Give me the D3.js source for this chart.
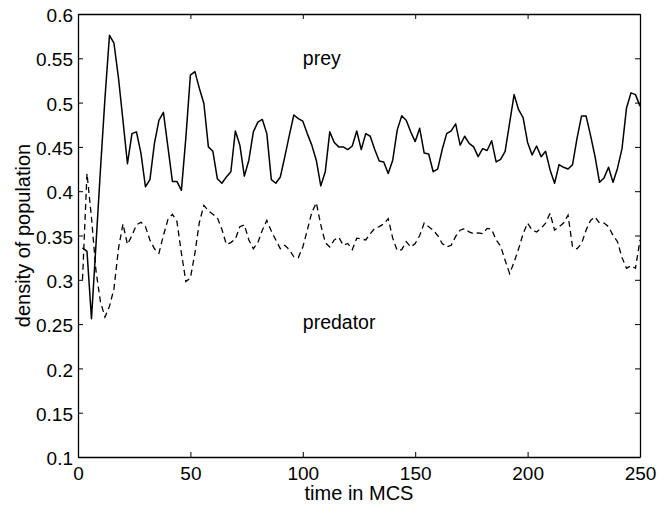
<!DOCTYPE html>
<html lang="en">
<head>
  <meta charset="utf-8">
  <title>prey / predator</title>
  <style>
    body { margin: 0; background: #fff; }
    svg { font-family: "Liberation Sans", Arial, Helvetica, sans-serif; }
  </style>
</head>
<body>
  <script src="https://cdn.jsdelivr.net/npm/d3@7/dist/d3.min.js"></script>
  <script>
    // sampling: every 2 MCS starting at t = 2
    var t0 = 2, dt = 2

    var prey = [
      0.336, 0.332, 0.256, 0.340, 0.425, 0.505, 0.576, 0.567, 0.528, 0.480,
      0.431, 0.465, 0.467, 0.443, 0.405, 0.413, 0.454, 0.480, 0.489, 0.450,
      0.411, 0.411, 0.401, 0.461, 0.531, 0.535, 0.516, 0.499, 0.450, 0.445,
      0.414, 0.409, 0.416, 0.422, 0.468, 0.452, 0.417, 0.435, 0.467, 0.478,
      0.481, 0.465, 0.413, 0.409, 0.416, 0.439, 0.463, 0.486, 0.482, 0.479,
      0.465, 0.452, 0.435, 0.406, 0.422, 0.467, 0.455, 0.450, 0.450, 0.447,
      0.451, 0.468, 0.447, 0.465, 0.462, 0.447, 0.434, 0.433, 0.420, 0.435,
      0.469, 0.485, 0.480, 0.467, 0.456, 0.471, 0.443, 0.442, 0.422, 0.425,
      0.447, 0.465, 0.468, 0.476, 0.452, 0.462, 0.454, 0.450, 0.439, 0.448,
      0.446, 0.457, 0.433, 0.436, 0.445, 0.477, 0.509, 0.492, 0.483, 0.455,
      0.441, 0.451, 0.439, 0.445, 0.424, 0.409, 0.430, 0.427, 0.425, 0.430,
      0.460, 0.485, 0.485, 0.463, 0.439, 0.410, 0.415, 0.427, 0.410, 0.426,
      0.448, 0.494, 0.511, 0.509, 0.496
    ]

    var predator = [
      0.300, 0.420, 0.370, 0.310, 0.275, 0.258, 0.270, 0.290, 0.335, 0.363,
      0.340, 0.350, 0.362, 0.365, 0.360, 0.345, 0.335, 0.330, 0.350, 0.368,
      0.374, 0.366, 0.330, 0.298, 0.302, 0.330, 0.365, 0.384, 0.378, 0.374,
      0.370, 0.357, 0.340, 0.342, 0.346, 0.360, 0.362, 0.345, 0.335, 0.342,
      0.356, 0.367, 0.355, 0.345, 0.335, 0.339, 0.334, 0.326, 0.325, 0.337,
      0.356, 0.376, 0.387, 0.362, 0.342, 0.337, 0.345, 0.348, 0.339, 0.341,
      0.334, 0.347, 0.346, 0.345, 0.352, 0.358, 0.360, 0.363, 0.369, 0.347,
      0.333, 0.334, 0.343, 0.337, 0.341, 0.350, 0.364, 0.360, 0.356, 0.350,
      0.341, 0.337, 0.339, 0.349, 0.356, 0.358, 0.354, 0.352, 0.353, 0.352,
      0.358, 0.357, 0.345, 0.338, 0.322, 0.307, 0.320, 0.335, 0.352, 0.364,
      0.356, 0.354, 0.358, 0.364, 0.375, 0.356, 0.360, 0.364, 0.373, 0.337,
      0.335, 0.341, 0.356, 0.367, 0.371, 0.364, 0.364, 0.360, 0.350, 0.343,
      0.325, 0.313, 0.316, 0.313, 0.345
    ]

    var xTicks = [0, 50, 100, 150, 200, 250]
    var yTicks = [0.1, 0.15, 0.2, 0.25, 0.3, 0.35, 0.4, 0.45, 0.5, 0.55, 0.6]

    var labels = [
      { text: "prey", t: 100, v: 0.543 },
      { text: "predator", t: 100, v: 0.244 }
    ]

    var w = 670, h = 506
    // plot box (window.top is reserved, so prefix these)
    var pL = 78, pR = 640, pT = 14, pB = 457

    var svg = d3.select("body").append("svg")
      .attr("width", w)
      .attr("height", h)

    var x = d3.scaleLinear().domain([0, 250]).range([pL, pR])
    var y = d3.scaleLinear().domain([0.1, 0.6]).range([pB, pT])

    var fmt = function (d) { return String(+d.toFixed(2)) }

    // axes, ticks pointing inwards like matlab
    var gx = svg.append("g")
      .attr("transform", "translate(0," + pB + ")")
      .call(d3.axisBottom(x).tickValues(xTicks).tickSize(-5).tickSizeOuter(0).tickPadding(10))
    var gy = svg.append("g")
      .attr("transform", "translate(" + pL + ",0)")
      .call(d3.axisLeft(y).tickValues(yTicks).tickFormat(fmt).tickSize(-5).tickSizeOuter(0).tickPadding(5))
    svg.append("g")
      .attr("transform", "translate(0," + pT + ")")
      .call(d3.axisTop(x).tickValues(xTicks).tickFormat("").tickSize(-5).tickSizeOuter(0))
    svg.append("g")
      .attr("transform", "translate(" + pR + ",0)")
      .call(d3.axisRight(y).tickValues(yTicks).tickFormat("").tickSize(-5).tickSizeOuter(0))

    svg.selectAll(".domain").attr("stroke", "#000").attr("stroke-width", 1.3)
    svg.selectAll(".tick line").attr("stroke", "#000").attr("stroke-width", 1)
    svg.selectAll(".tick text")
      .attr("font-size", 19)
      .attr("font-family", "Liberation Sans, Arial, sans-serif")
      .attr("fill", "#000")
    gx.selectAll(".tick text").attr("dy", "0.68em")
    gy.selectAll(".tick text").attr("dy", "0.4em")

    var line = d3.line()
      .x(function (d, i) { return x(t0 + i * dt) })
      .y(function (d) { return y(d) })

    svg.append("path")
      .datum(prey)
      .attr("fill", "none")
      .attr("stroke", "#000")
      .attr("stroke-width", 1.5)
      .attr("stroke-linejoin", "round")
      .attr("d", line)

    svg.append("path")
      .datum(predator)
      .attr("fill", "none")
      .attr("stroke", "#000")
      .attr("stroke-width", 1.3)
      .attr("stroke-dasharray", "6,4")
      .attr("d", line)

    svg.selectAll(".lbl")
      .data(labels)
      .enter().append("text")
      .attr("class", "lbl")
      .attr("x", function (d) { return x(d.t) })
      .attr("y", function (d) { return y(d.v) })
      .attr("font-size", 19.5)
      .text(function (d) { return d.text })

    svg.append("text")
      .attr("x", (pL + pR) / 2)
      .attr("y", 500)
      .attr("text-anchor", "middle")
      .attr("font-size", 20)
      .text("time in MCS")

    svg.append("text")
      .attr("transform", "translate(30," + (pT + pB) / 2 + ") rotate(-90)")
      .attr("text-anchor", "middle")
      .attr("font-size", 20)
      .text("density of population")
  </script>
</body>
</html>
